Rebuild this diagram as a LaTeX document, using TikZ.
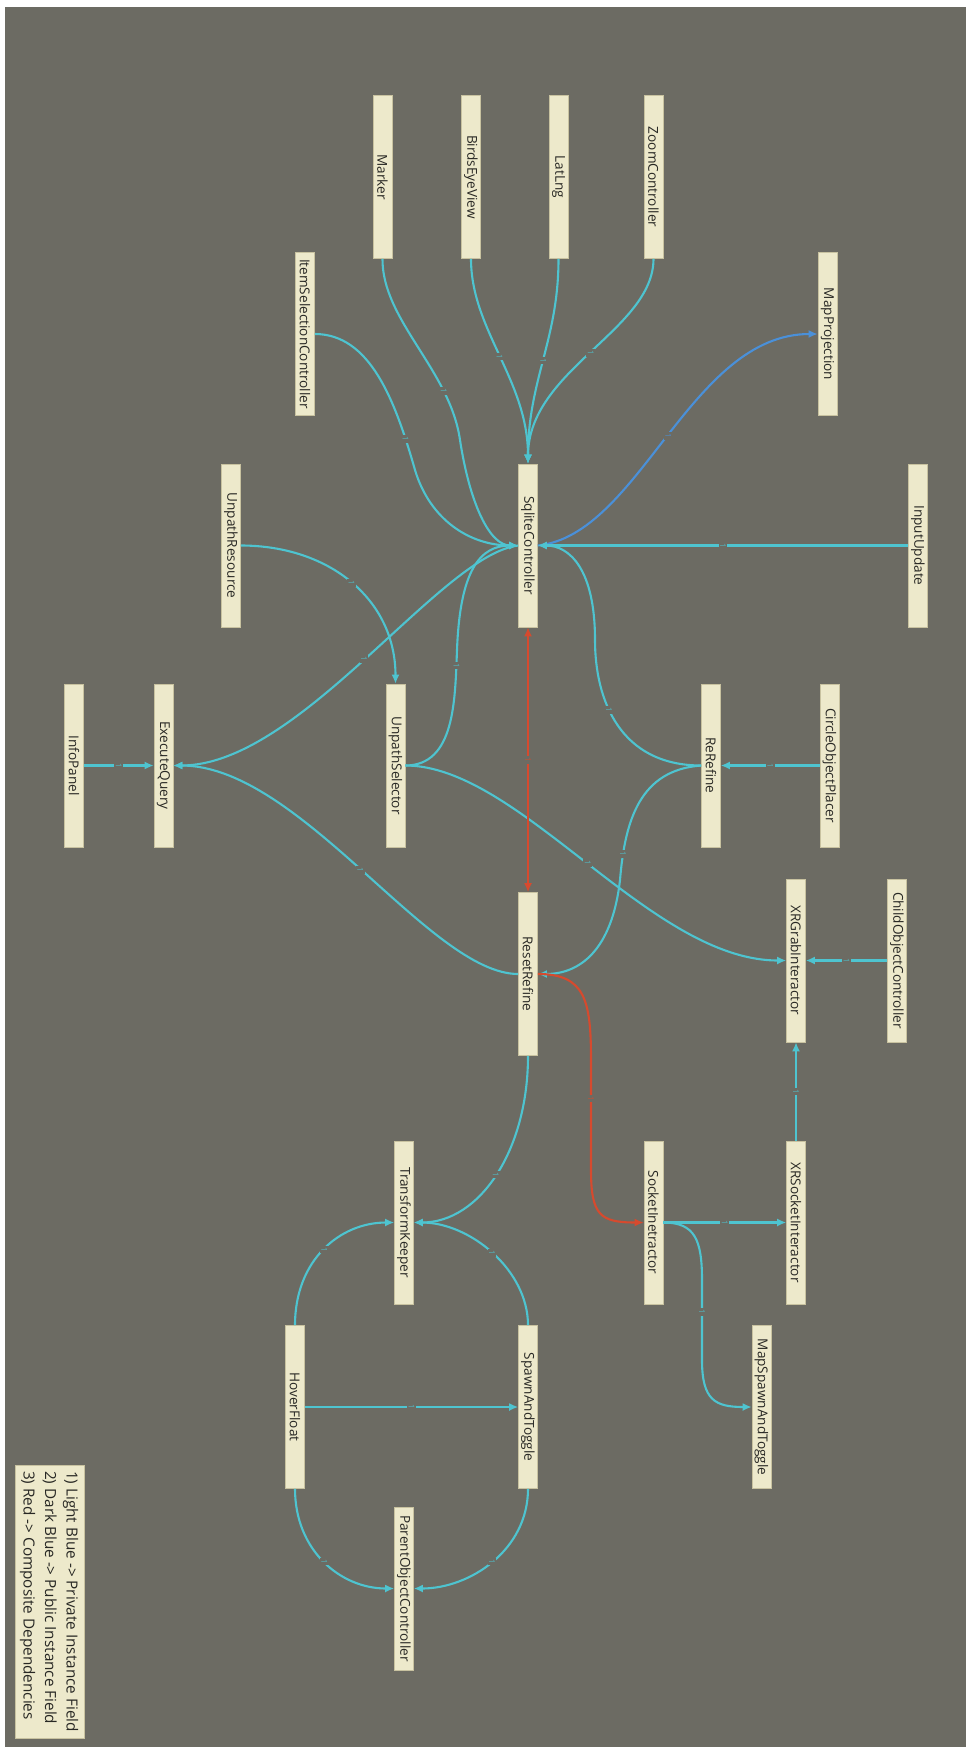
\documentclass[tikz,border=0pt]{standalone}
\usepackage{fontspec}
\setmainfont{Open Sans}
\usepackage{graphicx}
\usetikzlibrary{arrows.meta}
\definecolor{bg}{RGB}{108,107,99}
\definecolor{boxfill}{RGB}{237,233,203}
\definecolor{boxline}{RGB}{200,194,160}
\definecolor{boxtext}{RGB}{40,40,36}
\definecolor{lblue}{RGB}{78,196,208}
\definecolor{dblue}{RGB}{74,144,217}
\definecolor{cred}{RGB}{214,74,46}
\begin{document}
\begin{tikzpicture}[x=1pt,y=-1pt,
  box/.style={draw=boxline, line width=0.6pt, fill=boxfill, minimum width=19pt, minimum height=163pt, inner sep=0pt, text=boxtext, font=\fontsize{13.6}{15}\selectfont},
  legendbox/.style={draw=boxline, line width=0.6pt, fill=boxfill, minimum width=69pt, minimum height=273pt, inner sep=0pt, text=boxtext, font=\fontsize{15.3}{21.5}\selectfont},
  lb/.style={draw=lblue, line width=2.1pt, -{Latex[length=9pt,width=8pt]}},
  db/.style={draw=dblue, line width=2.1pt, -{Latex[length=9pt,width=8pt]}},
  rd/.style={draw=cred, line width=2.1pt, -{Latex[length=9pt,width=8pt]}},
  tag/.style={fill=bg, inner sep=1.5pt, text=lblue!80!bg, font=\fontsize{8}{9}\selectfont},
  rtag/.style={fill=bg, inner sep=1.5pt, text=cred!80!bg, font=\fontsize{8}{9}\selectfont},
  btag/.style={fill=bg, inner sep=1.5pt, text=dblue!80!bg, font=\fontsize{8}{9}\selectfont}
]
\useasboundingbox (0,0) rectangle (966,1747);
\fill[bg] (5,7) rectangle (966,1747);

% nodes
\node[box] (mk) at (382.5,177) {\rotatebox{-90}{Marker}};
\node[box] (be) at (471,177) {\rotatebox{-90}{BirdsEyeView}};
\node[box] (ll) at (558.5,177) {\rotatebox{-90}{LatLng}};
\node[box] (zc) at (653.5,177) {\rotatebox{-90}{ZoomController}};
\node[box] (is) at (305,334) {\rotatebox{-90}{ItemSelectionController}};
\node[box] (mp) at (827.5,334) {\rotatebox{-90}{MapProjection}};
\node[box] (ur) at (231,545.5) {\rotatebox{-90}{UnpathResource}};
\node[box] (sq) at (528,545.5) {\rotatebox{-90}{SqliteController}};
\node[box] (iu) at (918,545.5) {\rotatebox{-90}{InputUpdate}};
\node[box] (ip) at (74,765.5) {\rotatebox{-90}{InfoPanel}};
\node[box] (eq) at (163.5,765.5) {\rotatebox{-90}{ExecuteQuery}};
\node[box] (us) at (395.5,765.5) {\rotatebox{-90}{UnpathSelector}};
\node[box] (rr) at (711,765.5) {\rotatebox{-90}{ReRefine}};
\node[box] (cp) at (829.5,765.5) {\rotatebox{-90}{CircleObjectPlacer}};
\node[box] (rs) at (528,974) {\rotatebox{-90}{ResetRefine}};
\node[box] (xg) at (796,960.5) {\rotatebox{-90}{XRGrabInteractor}};
\node[box] (co) at (897,960.5) {\rotatebox{-90}{ChildObjectController}};
\node[box] (tk) at (404,1222.5) {\rotatebox{-90}{TransformKeeper}};
\node[box] (si) at (653.5,1222.5) {\rotatebox{-90}{SocketInetractor}};
\node[box] (xs) at (796,1222.5) {\rotatebox{-90}{XRSocketInteractor}};
\node[box] (hf) at (295,1407) {\rotatebox{-90}{HoverFloat}};
\node[box] (sa) at (528,1407) {\rotatebox{-90}{SpawnAndToggle}};
\node[box] (ms) at (761.5,1407) {\rotatebox{-90}{MapSpawnAndToggle}};
\node[box] (po) at (404,1588.5) {\rotatebox{-90}{ParentObjectController}};
\node[legendbox] (lg) at (49.5,1601.5) {\rotatebox{-90}{\begin{tabular}{@{}l@{}}1) Light Blue -> Private Instance Field\\2) Dark Blue -> Public Instance Field\\3) Red -> Composite Dependencies\end{tabular}}};

% edges
\draw[lb] (mk.south) .. controls (382,320) and (450,370) .. (460,440) node[tag,pos=0.75] {\rotatebox{-90}{1}} .. controls (470,505) and (490,545.5) .. (sq.west);
\draw[lb] (is.east) .. controls (370,334) and (395,400) .. (415,470) node[tag,pos=0.85] {\rotatebox{-90}{1}} .. controls (430,520) and (470,545.5) .. (sq.west);
\draw[lb] (be.south) .. controls (471,330) and (528,380) .. (sq.north) node[tag,pos=0.5] {\rotatebox{-90}{1}};
\draw[lb] (ll.south) .. controls (558.5,340) and (528,380) .. (sq.north) node[tag,pos=0.5] {\rotatebox{-90}{1}};
\draw[lb] (zc.south) .. controls (653.5,330) and (528,370) .. (sq.north) node[tag,pos=0.5] {\rotatebox{-90}{1}};
\draw[db] (sq.east) .. controls (640,535) and (690,334) .. (mp.west) node[btag,pos=0.5] {\rotatebox{-90}{1}};
\draw[lb] (iu.west) -- (sq.east) node[tag,pos=0.5] {\rotatebox{-90}{1}};
\draw[lb] (ur.east) .. controls (330,545.5) and (395.5,600) .. (us.north) node[tag,pos=0.5] {\rotatebox{-90}{1}};
\draw[lb] (us.east) .. controls (455,765.5) and (455,700) .. (457,650) node[tag,pos=0.9] {\rotatebox{-90}{1}} .. controls (460,570) and (480,545.5) .. (sq.west);
\draw[lb] (sq.west) .. controls (440,555) and (300,765.5) .. (eq.east) node[tag,pos=0.5] {\rotatebox{-90}{1}};
\draw[lb] (rs.west) .. controls (430,974) and (300,765.5) .. (eq.east) node[tag,pos=0.5] {\rotatebox{-90}{1}};
\draw[lb] (us.east) .. controls (520,765.5) and (650,960.5) .. (xg.west) node[tag,pos=0.5] {\rotatebox{-90}{1}};
\draw[lb] (rr.west) .. controls (620,765.5) and (595,700) .. (595,640) node[tag,pos=0.6] {\rotatebox{-90}{1}} .. controls (595,570) and (570,545.5) .. (sq.east);
\draw[lb] (rr.west) .. controls (640,770) and (625,820) .. (620,880) node[tag,pos=0.85] {\rotatebox{-90}{1}} .. controls (612,950) and (580,974) .. (rs.east);
\draw[lb] (cp.west) -- (rr.east) node[tag,pos=0.5] {\rotatebox{-90}{1}};
\draw[lb] (ip.east) -- (eq.west) node[tag,pos=0.5] {\rotatebox{-90}{1}};
\draw[rd, {Latex[length=9pt,width=8pt]}-{Latex[length=9pt,width=8pt]}] (sq.south) -- (rs.north) node[rtag,pos=0.5] {\rotatebox{-90}{1}};
\draw[rd] (rs.east) .. controls (585,974) and (591,1000) .. (591,1060) -- (591,1170) node[rtag,pos=0.35] {\rotatebox{-90}{1}} .. controls (591,1215) and (600,1222.5) .. (si.west);
\draw[lb] (rs.south) .. controls (528,1150) and (480,1222.5) .. (tk.east) node[tag,pos=0.5] {\rotatebox{-90}{1}};
\draw[lb] (sa.north) .. controls (528,1270) and (470,1222.5) .. (tk.east) node[tag,pos=0.5] {\rotatebox{-90}{1}};
\draw[lb] (hf.north) .. controls (295,1260) and (340,1222.5) .. (tk.west) node[tag,pos=0.5] {\rotatebox{-90}{1}};
\draw[lb] (hf.east) -- (sa.west) node[tag,pos=0.5] {\rotatebox{-90}{1}};
\draw[lb] (hf.south) .. controls (295,1550) and (340,1588.5) .. (po.west) node[tag,pos=0.5] {\rotatebox{-90}{1}};
\draw[lb] (sa.south) .. controls (528,1550) and (470,1588.5) .. (po.east) node[tag,pos=0.5] {\rotatebox{-90}{1}};
\draw[lb] (co.west) -- (xg.east) node[tag,pos=0.5] {\rotatebox{-90}{1}};
\draw[lb] (xs.north) -- (xg.south) node[tag,pos=0.5] {\rotatebox{-90}{1}};
\draw[lb] (si.east) -- (xs.west) node[tag,pos=0.5] {\rotatebox{-90}{1}};
\draw[lb] (si.east) .. controls (695,1222.5) and (702,1240) .. (702,1280) -- (702,1360) node[tag,pos=0.4] {\rotatebox{-90}{1}} .. controls (702,1400) and (715,1407) .. (ms.west);
\end{tikzpicture}
\end{document}
